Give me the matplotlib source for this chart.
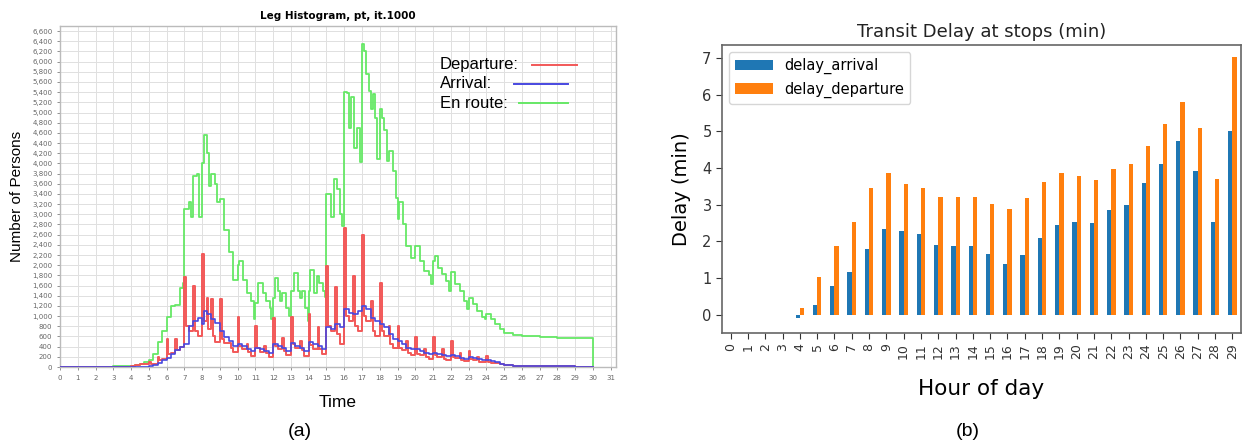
import numpy as np
import pandas as pd
import matplotlib
matplotlib.use("Agg")
import matplotlib.pyplot as plt
from matplotlib.ticker import MultipleLocator, FuncFormatter
from matplotlib.lines import Line2D

# ---------------- Panel (a): Leg histogram ----------------
dep_t = [0, 1, 2, 3, 4, 4.25, 4.5, 4.75,
         5.0, 5.1, 5.25, 5.5, 5.6, 5.75,
         6.0, 6.1, 6.25, 6.5, 6.6, 6.75,
         7.0, 7.1, 7.25, 7.5, 7.6, 7.75,
         8.0, 8.1, 8.25, 8.35, 8.5, 8.6, 8.75,
         9.0, 9.1, 9.25, 9.5, 9.6, 9.75,
         10.0, 10.1, 10.25, 10.5, 10.6, 10.75,
         11.0, 11.1, 11.25, 11.5, 11.6, 11.75,
         12.0, 12.1, 12.25, 12.5, 12.6, 12.75,
         13.0, 13.1, 13.25, 13.5, 13.6, 13.75,
         14.0, 14.1, 14.25, 14.5, 14.6, 14.75,
         15.0, 15.1, 15.25, 15.5, 15.6, 15.75,
         16.0, 16.1, 16.25, 16.5, 16.6, 16.75,
         17.0, 17.1, 17.25, 17.5, 17.6, 17.75,
         18.0, 18.1, 18.25, 18.5, 18.6, 18.75,
         19.0, 19.1, 19.25, 19.5, 19.6, 19.75,
         20.0, 20.1, 20.25, 20.5, 20.6, 20.75,
         21.0, 21.1, 21.25, 21.5, 21.6, 21.75,
         22.0, 22.1, 22.25, 22.5, 22.6, 22.75,
         23.0, 23.1, 23.25, 23.5, 23.6, 23.75,
         24.0, 24.1, 24.25, 24.5, 24.75,
         25.0, 25.5, 26.0, 27.0, 29.0, 30.0]
dep_v = [3, 5, 6, 8, 20, 30, 50, 60,
         100, 50, 60, 200, 130, 150,
         550, 250, 280, 550, 330, 400,
         1770, 800, 700, 1600, 700, 600,
         2220, 900, 1350, 750, 1330, 600, 500,
         1340, 550, 480, 480, 380, 300,
         980, 420, 350, 450, 300, 220,
         810, 380, 300, 420, 280, 200,
         970, 420, 350, 560, 320, 230,
         980, 450, 380, 520, 330, 220,
         1040, 430, 350, 780, 350, 250,
         1980, 800, 700, 1580, 650, 450,
         2740, 1000, 900, 1790, 800, 700,
         2590, 1000, 900, 1300, 700, 600,
         1650, 700, 600, 810, 450, 380,
         810, 380, 330, 510, 280, 230,
         580, 260, 230, 350, 200, 160,
         580, 230, 200, 350, 160, 130,
         520, 200, 170, 280, 130, 110,
         320, 150, 130, 200, 100, 90,
         220, 100, 80, 70, 50,
         30, 20, 15, 10, 5, 0]

arr_t = [0, 4.5, 5.0, 5.25, 5.5, 5.75, 6.0, 6.25, 6.5, 6.75,
         7.0, 7.25, 7.5, 7.75, 8.0, 8.1, 8.25, 8.5, 8.75,
         9.0, 9.25, 9.5, 9.75, 10.0, 10.25, 10.5, 10.75,
         11.0, 11.25, 11.5, 11.75, 12.0, 12.25, 12.5, 12.75,
         13.0, 13.25, 13.5, 13.75, 14.0, 14.25, 14.5, 14.75,
         15.0, 15.25, 15.5, 15.75, 16.0, 16.25, 16.5, 16.75,
         17.0, 17.25, 17.5, 17.75, 18.0, 18.25, 18.5, 18.75,
         19.0, 19.25, 19.5, 19.75, 20.0, 20.25, 20.5, 20.75,
         21.0, 21.25, 21.5, 21.75, 22.0, 22.25, 22.5, 22.75,
         23.0, 23.25, 23.5, 23.75, 24.0, 24.25, 24.5, 24.75,
         25.0, 25.5, 26.0, 27.0, 28.0, 29.0, 30.0]
arr_v = [0, 3, 10, 40, 80, 130, 180, 250, 330, 400,
         450, 810, 900, 970, 850, 1110, 1040, 940, 870,
         710, 580, 510, 410, 460, 410, 350, 315,
         380, 350, 320, 280, 450, 410, 380, 320,
         480, 420, 380, 320, 500, 450, 420, 350,
         780, 740, 840, 780, 1140, 1070, 1040, 1100,
         1200, 1140, 970, 900, 840, 780, 640, 550,
         510, 450, 380, 350, 350, 315, 280, 250,
         280, 260, 236, 210, 236, 215, 184, 165,
         197, 180, 150, 135, 130, 120, 100, 65,
         40, 26, 20, 15, 10, 8, 5]

enr_t = [0, 2, 3, 3.5, 4.0, 4.25, 4.5, 4.75, 5.0, 5.25, 5.5, 5.75,
         6.0, 6.25, 6.5, 6.75, 6.9, 7.0, 7.25, 7.4, 7.5, 7.7, 7.85,
         8.0, 8.08, 8.25, 8.4, 8.5, 8.7, 8.85, 9.0, 9.25, 9.5, 9.75,
         10.0, 10.1, 10.3, 10.5, 10.75, 10.9, 11.0, 11.15, 11.4, 11.6, 11.8, 11.9,
         12.0, 12.1, 12.3, 12.4, 12.5, 12.7, 12.9,
         13.0, 13.15, 13.4, 13.5, 13.6, 13.8, 13.95,
         14.0, 14.1, 14.3, 14.45, 14.6, 14.8, 14.9,
         15.0, 15.15, 15.25, 15.45, 15.6, 15.75, 15.9,
         16.0, 16.15, 16.25, 16.4, 16.55, 16.7, 16.9,
         17.0, 17.1, 17.25, 17.4, 17.5, 17.6, 17.75, 17.85,
         18.0, 18.15, 18.25, 18.4, 18.5, 18.75, 18.9,
         19.0, 19.1, 19.3, 19.5, 19.75, 20.0, 20.25, 20.5, 20.75, 20.9,
         21.0, 21.1, 21.3, 21.5, 21.75, 21.9, 22.0, 22.25, 22.5, 22.75, 22.9,
         23.0, 23.25, 23.5, 23.75, 23.9, 24.0, 24.25, 24.5, 24.75,
         25.0, 25.5, 26.0, 27.0, 28.0, 30.0]
enr_v = [0, 5, 10, 15, 25, 40, 60, 90, 130, 250, 500, 700,
         980, 1200, 1220, 1550, 1650, 3100, 3250, 2950, 3750, 3800, 2950,
         4000, 4550, 4200, 3550, 3800, 3600, 3250, 3300, 2700, 2250, 1700,
         2000, 2080, 1700, 1450, 1300, 950, 1250, 1650, 1450, 1300, 1150, 950,
         1350, 1740, 1500, 1300, 1450, 1150, 1000,
         1500, 1840, 1500, 1360, 1500, 1150, 900,
         1500, 1900, 1450, 1780, 1650, 1500, 1380,
         3400, 3400, 2950, 3700, 3500, 3000, 2780,
         5400, 5380, 4700, 5300, 4300, 4700, 4020,
         6350, 6200, 5760, 5430, 5070, 5370, 4900, 4090,
         5070, 4900, 4650, 4050, 4250, 3860, 3330,
         2900, 3250, 2800, 2380, 2150, 2380, 2090, 1890, 1800, 1630,
         2090, 2180, 1950, 1820, 1690, 1500, 1860, 1630, 1500, 1300, 1130,
         1360, 1230, 1100, 980, 940, 1040, 950, 840, 740,
         675, 630, 610, 590, 577, 0]

leg_labels = ["Departure:", "Arrival:", "En route:"]
leg_colors = ['#f25858', '#4848e0', '#66e866']

# ---------------- Panel (b): Transit delay ----------------
hours = list(range(30))
delay_arrival = [0, 0, 0, 0, -0.08, 0.25, 0.79, 1.15, 1.80, 2.33,
                 2.27, 2.20, 1.91, 1.88, 1.88, 1.66, 1.37, 1.63, 2.09, 2.45,
                 2.53, 2.49, 2.85, 3.00, 3.58, 4.11, 4.72, 3.92, 2.53, 5.01]
delay_departure = [0, 0, 0, 0, 0.18, 1.04, 1.86, 2.52, 3.45, 3.85,
                   3.57, 3.45, 3.21, 3.21, 3.21, 3.02, 2.88, 3.17, 3.61, 3.87,
                   3.79, 3.68, 3.98, 4.11, 4.61, 5.20, 5.80, 5.09, 3.71, 7.02]

fig = plt.figure(figsize=(12.42, 4.47), dpi=100)
W, H = 1242, 447

def rect(x0, y0, x1, y1):
    return [x0 / W, 1 - y1 / H, (x1 - x0) / W, (y1 - y0) / H]

# ---- left
ax1 = fig.add_axes(rect(60, 26, 616, 367))
ax1.step(dep_t, dep_v, where='post', color=leg_colors[0], lw=1.4, zorder=3)
ax1.step(arr_t, arr_v, where='post', color=leg_colors[1], lw=1.2, zorder=4)
ax1.step(enr_t, enr_v, where='post', color=leg_colors[2], lw=1.3, zorder=2)
ax1.set_xlim(0, 31.3)
ax1.set_ylim(0, 6700)
ax1.xaxis.set_major_locator(MultipleLocator(1))
ax1.yaxis.set_major_locator(MultipleLocator(200))
ax1.yaxis.set_major_formatter(FuncFormatter(lambda v, p: f"{int(v):,}"))
ax1.tick_params(labelsize=5, colors='#666666', length=2, width=0.5)
ax1.grid(True, color='#e0e0e0', lw=0.7)
ax1.set_axisbelow(True)
for s in ax1.spines.values():
    s.set_color('#bbbbbb')
    s.set_linewidth(1.0)
ax1.set_title("Leg Histogram, pt, it.1000", fontsize=7.5, fontweight='bold',
              family='DejaVu Sans', pad=5)
ax1.set_ylabel("Number of Persons", fontsize=11, family='Liberation Sans', labelpad=6)
ax1.set_xlabel("Time", fontsize=12.5, family='Liberation Sans', labelpad=10)

# legend: text followed by a line sample (JFreeChart style)
def fx(px):
    return (px - 60) / 556
def fy(py):
    return 1 - (py - 26) / 341
leg_text_y = [65, 84, 103]
leg_line_x = [(532, 577), (514, 568), (519, 568)]
for lab, col, yy, (xa, xb) in zip(leg_labels, leg_colors, leg_text_y, leg_line_x):
    ax1.text(fx(440), fy(yy), lab, transform=ax1.transAxes, fontsize=12,
             family='Liberation Sans', ha='left', va='center', zorder=6)
    ax1.add_line(Line2D([fx(xa), fx(xb)], [fy(yy), fy(yy)], transform=ax1.transAxes,
                        color=col, lw=1.4, zorder=6))

fig.text(300 / W, 1 - 432 / H, "(a)", fontsize=14, family='Liberation Sans',
         ha='center', va='center')

# ---- right
ax2 = fig.add_axes(rect(722, 45, 1241, 333))
df = pd.DataFrame({'delay_arrival': delay_arrival,
                   'delay_departure': delay_departure}, index=hours)
df.plot(kind='bar', ax=ax2, color=['#1f77b4', '#ff7f0e'], width=0.5)
ax2.set_xlim(-0.5, 29.5)
ax2.set_ylim(-0.5, 7.35)
ax2.set_title("Transit Delay at stops (min)", fontsize=13, color='#222222', pad=6)
ax2.set_ylabel("Delay (min)", fontsize=14, labelpad=8)
ax2.set_xlabel("Hour of day", fontsize=15.5, labelpad=14)
ax2.tick_params(axis='y', labelsize=10.5, colors='#333333', length=4)
ax2.tick_params(axis='x', labelsize=9, colors='#333333', length=4, rotation=90)
for s in ax2.spines.values():
    s.set_color('#666666')
    s.set_linewidth(1.2)
ax2.legend(loc='upper left', fontsize=10.5, handlelength=2.6, borderaxespad=0.5)

fig.text(968 / W, 1 - 432 / H, "(b)", fontsize=14, family='Liberation Sans',
         ha='center', va='center')

fig.savefig("out.png", dpi=100)
